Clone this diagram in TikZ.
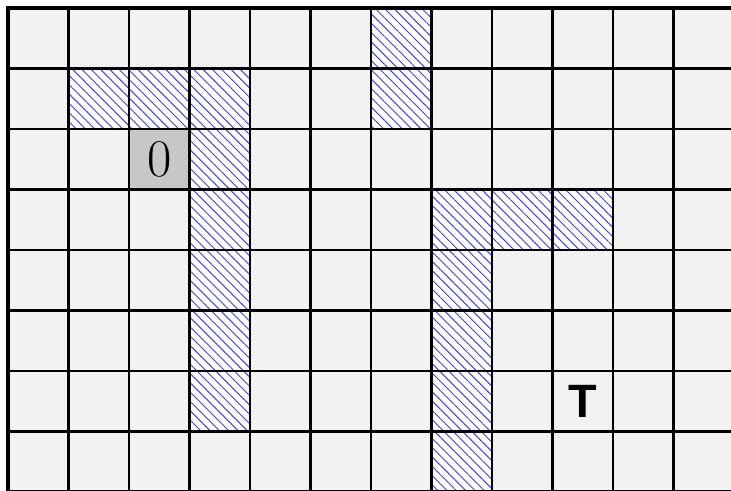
\documentclass[tikz,border=0pt]{standalone}
\usepackage{fontspec}
\newfontfamily\labelfont{Liberation Sans}
\usetikzlibrary{patterns.meta}

\begin{document}
\begin{tikzpicture}[
        cell/.style={minimum size=1cm, inner sep=0pt, outer sep=0pt},
        hatched/.style={cell, preaction={fill=white}, pattern={Lines[angle=-45, distance=3.1pt, line width=0.45pt]}, pattern color=blue!75},
        startcell/.style={cell, fill=black!22, font=\fontsize{23}{27}\selectfont},
        goal/.style={cell, font=\fontsize{22}{26}\labelfont\bfseries},
        gridline/.style={line width=1pt, black},
        border/.style={line width=1.6pt, black}
    ]
    \useasboundingbox (-0.132,0.132) rectangle (11.95,-7.983);
    % Background
    \fill[black!5] (0,0) rectangle (12,-8);
    % Obstacles
    \foreach \c/\r in {6/0, 1/1, 2/1, 3/1, 6/1, 3/2, 3/3, 7/3, 8/3, 9/3, 3/4, 7/4, 3/5, 7/5, 3/6, 7/6, 7/7}
        \node[hatched] (wall-\c-\r) at (\c+0.5,-\r-0.5) {};
    % Start and target
    \node[startcell] (start) at (2.5,-2.5) {$0$};
    \node[goal] (target) at (9.5,-6.5) {T};
    % Grid
    \draw[gridline] (0,0) grid (12,-8);
    \draw[border] (12,0) -- (0,0) -- (0,-8) -- (12,-8);
\end{tikzpicture}
\end{document}
